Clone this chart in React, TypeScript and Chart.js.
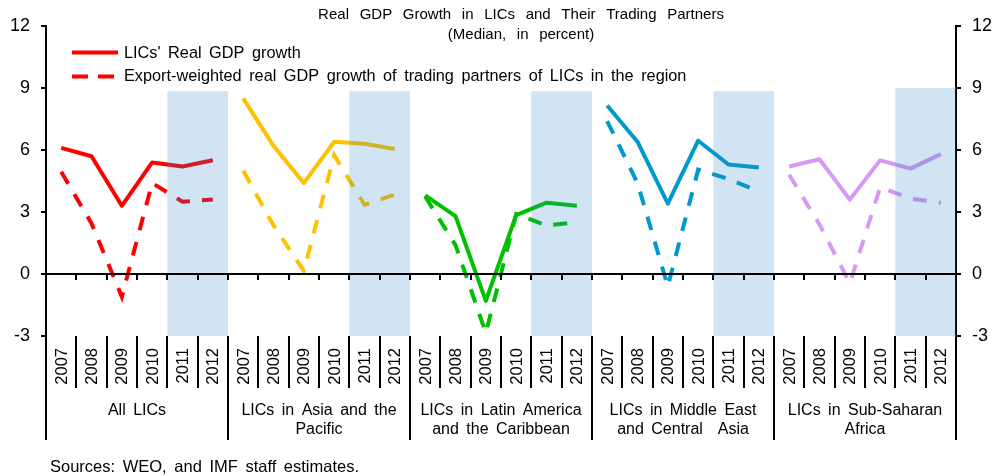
import { useEffect, useRef } from 'react';
import { Chart, registerables } from 'chart.js';

Chart.register(...registerables);

const FONT = '"Liberation Sans", Arial, Helvetica, sans-serif';

// ---- data ----
const years = ['2007', '2008', '2009', '2010', '2011', '2012'];
const groupNames = [
  ['All LICs'],
  ['LICs in Asia and the', 'Pacific'],
  ['LICs in Latin America', 'and the Caribbean'],
  ['LICs in Middle East', 'and Central  Asia'],
  ['LICs in Sub-Saharan', 'Africa'],
];
const groupColors = ['#FF0000', '#FFC000', '#00C000', '#0099CC', '#D898F5'];

// LICs' real GDP growth (solid)
const allLicsGdp = [6.1, 5.7, 3.3, 5.4, 5.2, 5.5];
const asiaGdp = [8.5, 6.2, 4.4, 6.4, 6.3, 6.05];
const latamGdp = [3.8, 2.8, -1.3, 2.85, 3.45, 3.3];
const mecaGdp = [8.15, 6.4, 3.4, 6.45, 5.3, 5.15];
const ssaGdp = [5.2, 5.55, 3.6, 5.5, 5.1, 5.8];

// Export-weighted real GDP growth of trading partners (dashed)
const allLicsPartners = [4.95, 2.45, -1.1, 4.4, 3.5, 3.6];
const asiaPartners = [5.0, 2.35, 0.15, 5.75, 3.35, 3.85];
const latamPartners = [3.75, 1.4, -2.85, 2.9, 2.35, 2.5];
const mecaPartners = [7.4, 4.4, -0.6, 5.05, 4.6, 4.0];
const ssaPartners = [4.8, 2.4, -0.45, 4.2, 3.65, 3.45];

// projection shading
const shadedYears = ['2011', '2012'];
const shadeTop = [8.85, 8.85, 8.85, 8.85, 9.0];
const shadeBottom = -3;

const yTicks = [-3, 0, 3, 6, 9, 12];

const legendLabels = [
  "LICs' Real GDP growth",
  'Export-weighted real GDP growth of trading partners of LICs in the region',
];
const titleLines = ['Real GDP Growth in LICs and Their Trading Partners', '(Median, in percent)'];
const sourceText = 'Sources: WEO, and IMF staff estimates.';

const gdpSeries = [allLicsGdp, asiaGdp, latamGdp, mecaGdp, ssaGdp];
const partnerSeries = [allLicsPartners, asiaPartners, latamPartners, mecaPartners, ssaPartners];

const categoryLabels = groupNames.flatMap(() => years);
const perGroup = years.length;

function padGroup(vals: number[], gi: number) {
  return categoryLabels.map((_, i) => (Math.floor(i / perGroup) === gi ? vals[i % perGroup] : null));
}

function boundary(chart: any, k: number) {
  const xs = chart.scales.x;
  const step = xs.getPixelForValue(1) - xs.getPixelForValue(0);
  return xs.getPixelForValue(k) - step / 2;
}

const shadePlugin = {
  id: 'shade',
  afterDatasetsDraw(chart: any) {
    const { ctx } = chart;
    const ys = chart.scales.y;
    const first = years.indexOf(shadedYears[0]);
    const last = years.indexOf(shadedYears[shadedYears.length - 1]);
    ctx.save();
    ctx.fillStyle = 'rgba(40,130,200,0.22)';
    groupNames.forEach((_, gi) => {
      const x1 = boundary(chart, gi * perGroup + first);
      const x2 = boundary(chart, gi * perGroup + last + 1);
      const yt = ys.getPixelForValue(shadeTop[gi]);
      const yb = ys.getPixelForValue(shadeBottom);
      ctx.fillRect(x1, yt, x2 - x1, yb - yt);
    });
    ctx.restore();
  },
};

const overlayPlugin = {
  id: 'overlay',
  afterDraw(chart: any) {
    const { ctx, chartArea } = chart;
    const xs = chart.scales.x;
    const ys = chart.scales.y;
    const bx = (k: number) => boundary(chart, k);
    const n = categoryLabels.length;
    ctx.save();
    ctx.strokeStyle = '#000';
    ctx.fillStyle = '#000';
    ctx.lineWidth = 2;
    // zero line
    const y0 = Math.round(ys.getPixelForValue(0));
    ctx.beginPath();
    ctx.moveTo(chartArea.left, y0);
    ctx.lineTo(chartArea.right, y0);
    for (let k = 1; k < n; k++) {
      const x = Math.round(bx(k));
      ctx.moveTo(x, y0);
      ctx.lineTo(x, y0 + 6);
    }
    ctx.stroke();

    // category table
    const top = chartArea.bottom;
    ctx.beginPath();
    for (let k = 0; k <= n; k++) {
      const x = Math.round(bx(k));
      const len = k % perGroup === 0 ? 104 : 52;
      ctx.moveTo(x, top);
      ctx.lineTo(x, top + len);
    }
    ctx.stroke();

    ctx.font = `16.5px ${FONT}`;
    ctx.textAlign = 'right';
    ctx.textBaseline = 'middle';
    categoryLabels.forEach((lab, i) => {
      const xc = xs.getPixelForValue(i);
      ctx.save();
      ctx.translate(xc + 1, top + 12);
      ctx.rotate(-Math.PI / 2);
      ctx.fillText(lab, 0, 0);
      ctx.restore();
    });

    ctx.font = `16px ${FONT}`;
    (ctx as any).wordSpacing = '3px';
    ctx.textAlign = 'center';
    groupNames.forEach((lines, gi) => {
      const xc = (bx(gi * perGroup) + bx(gi * perGroup + perGroup)) / 2;
      lines.forEach((ln, li) => {
        ctx.fillText(ln, xc, top + 75 + li * 19);
      });
    });

    // sources
    ctx.font = `16.5px ${FONT}`;
    ctx.textAlign = 'left';
    ctx.fillText(sourceText, 50, 467);

    // legend
    ctx.font = `16.3px ${FONT}`;
    ctx.textAlign = 'left';
    ctx.fillText(legendLabels[0], 124, 54);
    ctx.fillText(legendLabels[1], 124, 77);
    ctx.strokeStyle = groupColors[0];
    ctx.lineWidth = 4;
    ctx.beginPath();
    ctx.moveTo(72, 52.5);
    ctx.lineTo(118, 52.5);
    ctx.stroke();
    ctx.setLineDash([16, 10]);
    ctx.beginPath();
    ctx.moveTo(72, 76.5);
    ctx.lineTo(118, 76.5);
    ctx.stroke();
    ctx.setLineDash([]);

    // title
    ctx.font = `15px ${FONT}`;
    (ctx as any).wordSpacing = '6.5px';
    ctx.textAlign = 'center';
    ctx.fillText(titleLines[0], 521, 15);
    ctx.fillText(titleLines[1], 521, 35);
    ctx.restore();
  },
};

export default function App() {
  const ref = useRef<HTMLCanvasElement | null>(null);
  useEffect(() => {
    if (!ref.current) return;
    const datasets: any[] = [];
    gdpSeries.forEach((vals, gi) => {
      datasets.push({
        type: 'line',
        data: padGroup(vals, gi),
        borderColor: groupColors[gi],
        borderWidth: 4,
        pointRadius: 0,
        tension: 0,
        fill: false,
        spanGaps: false,
        borderJoinStyle: 'round',
        yAxisID: 'y',
      });
    });
    partnerSeries.forEach((vals, gi) => {
      datasets.push({
        type: 'line',
        data: padGroup(vals, gi),
        borderColor: groupColors[gi],
        borderWidth: 4,
        borderDash: [14, 12],
        pointRadius: 0,
        tension: 0,
        fill: false,
        spanGaps: false,
        yAxisID: 'y',
      });
    });

    const axisCommon = (pos: 'left' | 'right', width: number) => ({
      position: pos,
      min: -3,
      max: 12,
      z: 1,
      afterFit: (s: any) => {
        s.width = width;
      },
      afterBuildTicks: (s: any) => {
        s.ticks = yTicks.map((v) => ({ value: v }));
      },
      border: { display: true, color: '#000', width: 2 },
      grid: { drawOnChartArea: false, color: '#000', lineWidth: 2, tickLength: 5 },
      ticks: { color: '#000', font: { size: 18, family: FONT }, padding: 11 },
    });

    const chart = new Chart(ref.current, {
      type: 'line',
      data: { labels: categoryLabels, datasets },
      options: {
        responsive: false,
        animation: false,
        layout: { padding: { top: 26, bottom: 140, left: 0, right: 0 } },
        plugins: { legend: { display: false }, tooltip: { enabled: false }, title: { display: false } },
        scales: {
          x: { type: 'category', offset: true, display: false },
          y: axisCommon('left', 46) as any,
          y2: axisCommon('right', 38) as any,
        },
      },
      plugins: [shadePlugin, overlayPlugin],
    });
    return () => chart.destroy();
  }, []);
  return (
    <div style={{ position: 'fixed', left: 0, top: 0, width: 994, height: 476, background: '#fff' }}>
      <canvas ref={ref} width={994} height={476} style={{ width: 994, height: 476, display: 'block' }} />
    </div>
  );
}
